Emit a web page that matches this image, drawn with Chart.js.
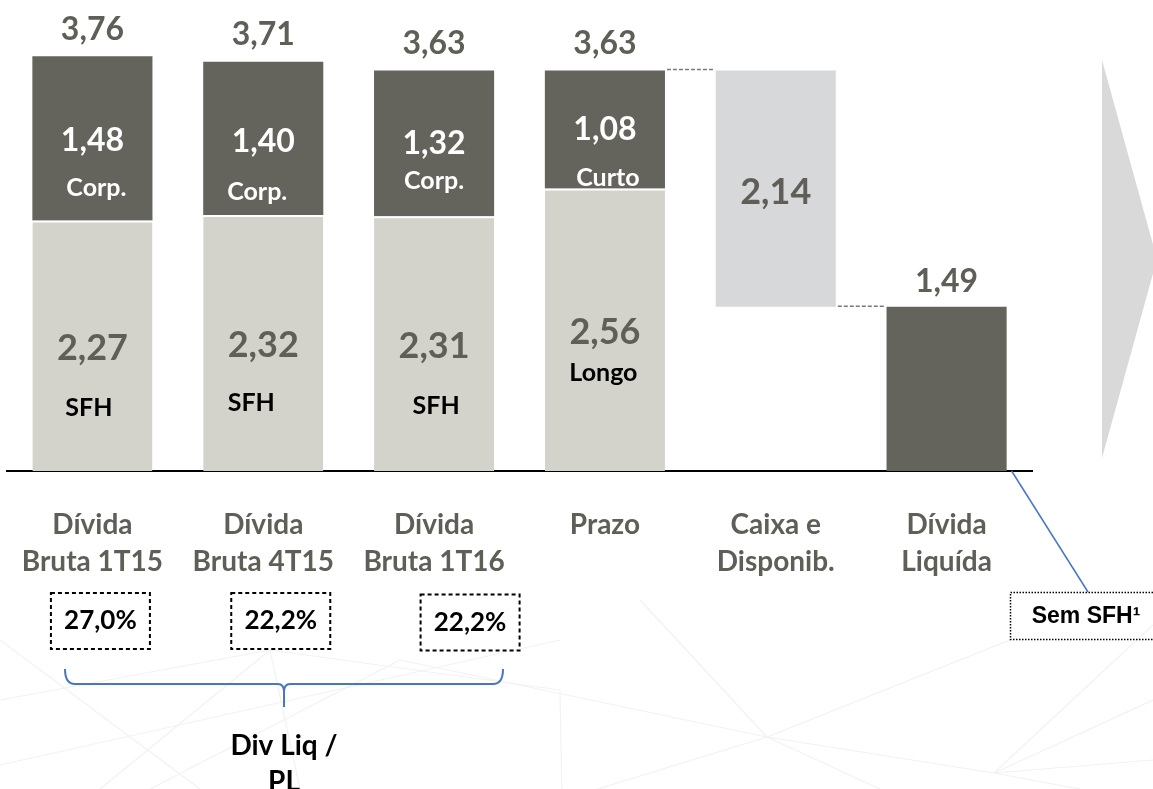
<!DOCTYPE html>
<html><head><meta charset="utf-8">
<script src="https://cdn.jsdelivr.net/npm/chart.js@4.4.1/dist/chart.umd.min.js"></script>
<style>html,body{margin:0;padding:0;background:#fff;overflow:hidden}#wrap{width:1153px;height:789px;position:relative}</style>
</head><body><div id="wrap"><canvas id="c" width="1153" height="789"></canvas></div>
<script>
// ---- data ----
const categories = [["Dívida","Bruta 1T15"],["Dívida","Bruta 4T15"],["Dívida","Bruta 1T16"],["Prazo"],["Caixa e","Disponib."],["Dívida","Liquída"]];
const baseValues = [2.27, 2.32, 2.31, 2.56];   // SFH / Longo
const topValues  = [1.48, 1.40, 1.32, 1.08];   // Corp. / Curto
const totals     = [3.76, 3.71, 3.63, 3.63];
const caixa = 2.14;
const dividaLiquida = 1.49;
const baseTags = ["SFH","SFH","SFH","Longo"];
const topTags  = ["Corp.","Corp.","Corp.","Curto"];
const divLiqPL = ["27,0%","22,2%","22,2%"];
const noteText = "Sem SFH¹";
const braceText = ["Div Liq /","PL"];

// ---- styles / layout ----
const DARK = '#64645c', LIGHT = '#d3d3cc', CAIXA = '#d7d8da', GRAYTXT = '#5f5f58', BLUE = '#4a76c0';
const FONT = 'Lato';
const fmt = v => v.toFixed(2).replace('.', ',');
const lightData = categories.map((_, i) => i < 4 ? [0, baseValues[i]] : null);
const darkData = categories.map((_, i) => i < 4 ? [baseValues[i], totals[i]] : (i === 5 ? [0, dividaLiquida] : null));
const caixaData = categories.map((_, i) => i === 4 ? [totals[3] - caixa, totals[3]] : null);

const L = {
  topDy: -27,
  darkValDy: [2, 3.5, 0.5, 0], darkTagDy: [50, 54, 38, 48], darkTagDx: [4, -6, 0, 3],
  lightValDy: [3, 2, 2.5, 3], lightTagDy: [62, 59.5, 62.5, 43], lightTagDx: [-3.5, -12, 2, -1.5],
  boxDx: [8, 17.5, 36], boxY: [621, 621, 622.5]
};

function txt(ctx, s, x, y, size, color, family, weight) {
  ctx.save();
  ctx.font = (weight || 'bold') + ' ' + size + 'px ' + (family || FONT);
  ctx.fillStyle = color; ctx.textAlign = 'center'; ctx.textBaseline = 'middle';
  ctx.fillText(s, x, y);
  ctx.restore();
}

const decor = {
  id: 'decor',
  beforeDraw(chart) {
    const ctx = chart.ctx;
    ctx.save();
    ctx.fillStyle = '#fff'; ctx.fillRect(0, 0, chart.width, chart.height);
    // faint watermark mesh
    ctx.strokeStyle = '#f2f2f2'; ctx.lineWidth = 1.2;
    const segs = [[767,737,994,773],[767,737,562,800],[767,737,400,660],[767,737,640,600],[767,737,880,789],[767,737,1010,640],
      [994,773,1153,700],[994,773,1153,625],[994,773,1080,789],[0,700,270,650],[270,650,560,690],[100,789,270,650],
      [0,765,560,640],[270,650,300,789],[560,690,562,800],[0,640,200,789],[400,660,150,789],[1153,760,994,773]];
    segs.forEach(s => { ctx.beginPath(); ctx.moveTo(s[0], s[1]); ctx.lineTo(s[2], s[3]); ctx.stroke(); });
    // big arrow shape on the right
    ctx.fillStyle = '#d9d9d9';
    ctx.beginPath(); ctx.moveTo(1102, 60); ctx.lineTo(1157, 259); ctx.lineTo(1102, 458); ctx.closePath(); ctx.fill();
    ctx.restore();
  },
  afterDraw(chart) {
    const ctx = chart.ctx, xs = chart.scales.x, ys = chart.scales.y;
    const darkMeta = chart.getDatasetMeta(1).data, caixaMeta = chart.getDatasetMeta(2).data;
    for (let i = 0; i < 4; i++) {
      const x = xs.getPixelForValue(i);
      const yTop = ys.getPixelForValue(totals[i]);
      const yMidDark = (ys.getPixelForValue(baseValues[i]) + yTop) / 2;
      const yMidLight = (ys.getPixelForValue(0) + ys.getPixelForValue(baseValues[i])) / 2;
      txt(ctx, fmt(totals[i]), x, yTop + L.topDy, 32, GRAYTXT);
      txt(ctx, fmt(topValues[i]), x, yMidDark + L.darkValDy[i], 32, '#fff');
      txt(ctx, topTags[i], x + L.darkTagDx[i], yMidDark + L.darkTagDy[i], 25, '#fff');
      txt(ctx, fmt(baseValues[i]), x, yMidLight + L.lightValDy[i], 36, GRAYTXT);
      txt(ctx, baseTags[i], x + L.lightTagDx[i], yMidLight + L.lightTagDy[i], 25, '#000');
    }
    // caixa label
    const xc = xs.getPixelForValue(4);
    txt(ctx, fmt(caixa), xc, (ys.getPixelForValue(totals[3]) + ys.getPixelForValue(totals[3] - caixa)) / 2 + 3.5, 36, GRAYTXT);
    // divida liquida label
    const xl = xs.getPixelForValue(5);
    txt(ctx, fmt(dividaLiquida), xl, ys.getPixelForValue(dividaLiquida) - 25, 32, GRAYTXT);
    // dashed connectors
    ctx.save();
    ctx.strokeStyle = '#7a7a7a'; ctx.lineWidth = 1.5; ctx.setLineDash([4, 2]);
    const b4 = darkMeta[3], c5 = caixaMeta[4], d6 = darkMeta[5];
    let y1 = ys.getPixelForValue(totals[3]) - 1;
    ctx.beginPath(); ctx.moveTo(b4.x + b4.width / 2 + 2, y1); ctx.lineTo(c5.x - c5.width / 2 - 2, y1); ctx.stroke();
    let y2 = ys.getPixelForValue(dividaLiquida) - 0.5;
    ctx.beginPath(); ctx.moveTo(c5.x + c5.width / 2 + 2, y2); ctx.lineTo(d6.x - d6.width / 2 - 2, y2); ctx.stroke();
    ctx.restore();
    // Div Liq / PL boxes
    ctx.save();
    for (let i = 0; i < 3; i++) {
      const cx = xs.getPixelForValue(i) + L.boxDx[i], cy = L.boxY[i];
      ctx.strokeStyle = '#000'; ctx.lineWidth = 2; ctx.setLineDash([4, 3]);
      ctx.strokeRect(cx - 49.5, cy - 28, 99, 56);
      txt(ctx, divLiqPL[i], cx, cy, 26, '#000');
    }
    ctx.restore();
    // brace
    ctx.save();
    ctx.strokeStyle = BLUE; ctx.lineWidth = 2;
    ctx.beginPath();
    ctx.moveTo(65, 669); ctx.quadraticCurveTo(65, 684, 75, 684); ctx.lineTo(278, 684);
    ctx.quadraticCurveTo(284, 684, 284, 692); ctx.lineTo(284, 707);
    ctx.moveTo(284, 692); ctx.quadraticCurveTo(284, 684, 290, 684); ctx.lineTo(493, 684);
    ctx.quadraticCurveTo(503, 684, 503, 669);
    ctx.stroke();
    ctx.restore();
    txt(ctx, braceText[0], 284, 746, 28, '#000');
    txt(ctx, braceText[1], 284, 782, 28, '#000');
    // Sem SFH note
    ctx.save();
    ctx.strokeStyle = BLUE; ctx.lineWidth = 1.5;
    ctx.beginPath(); ctx.moveTo(d6.x + d6.width / 2 + 5, ys.getPixelForValue(0)); ctx.lineTo(1088, 592); ctx.stroke();
    ctx.strokeStyle = '#000'; ctx.lineWidth = 1.5; ctx.setLineDash([1.5, 1.5]);
    ctx.strokeRect(1010.5, 592.5, 160, 47);
    ctx.restore();
    txt(ctx, noteText, 1086, 617, 23, '#000', '"Liberation Sans", Arial, sans-serif');
  }
};

new Chart(document.getElementById('c'), {
  type: 'bar',
  data: {
    labels: categories,
    datasets: [
      { label: 'SFH / Longo', data: lightData, backgroundColor: LIGHT, borderColor: '#fff',
        borderWidth: { top: 2, left: 0, right: 0, bottom: 0 }, grouped: false },
      { label: 'Corp. / Curto', data: darkData, backgroundColor: DARK, borderWidth: 0, grouped: false },
      { label: 'Caixa e Disponib.', data: caixaData, backgroundColor: CAIXA, borderWidth: 0, grouped: false }
    ]
  },
  options: {
    responsive: false, animation: false,
    layout: { padding: { left: 7, right: 121, top: 0, bottom: 0 } },
    datasets: { bar: { barPercentage: 0.703, categoryPercentage: 1 } },
    plugins: { legend: { display: false }, tooltip: { enabled: false } },
    scales: {
      x: {
        z: 1,
        grid: { display: false, drawTicks: false },
        border: { display: true, color: '#000', width: 2 },
        ticks: { color: GRAYTXT, font: { family: FONT, weight: 'bold', size: 28, lineHeight: 1.3 }, padding: 36, maxRotation: 0, autoSkip: false },
        afterFit(s) { s.height = 318; s.paddingLeft = 0; s.paddingRight = 0; }
      },
      y: { display: false, min: 0, max: 4.27 }
    }
  },
  plugins: [decor]
});
</script></body></html>
